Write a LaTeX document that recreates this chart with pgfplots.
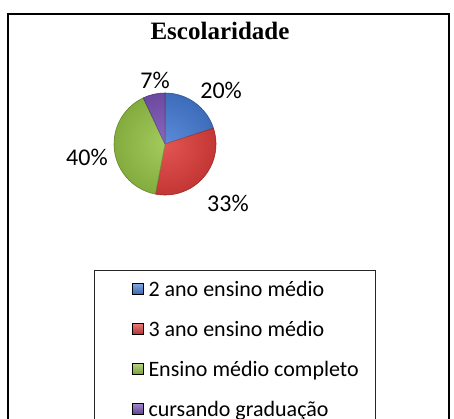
\documentclass[border=0pt]{standalone}
\usepackage{pgfplots}
\pgfplotsset{compat=1.18}
\usepackage{fontspec}
\setmainfont{Carlito}
\newfontfamily\titlefont{Liberation Serif}

\definecolor{pblue}{RGB}{70,124,212}
\definecolor{pred}{RGB}{222,62,60}
\definecolor{pgreen}{RGB}{150,196,72}
\definecolor{ppurple}{RGB}{122,84,182}

% start (cumulative %), value (%), colour
\newcommand\slice[3]{%
  \pgfmathsetmacro\sa{90-3.6*#1}%
  \pgfmathsetmacro\sb{90-3.6*(#1+#2)}%
  \edef\tmp{\noexpand\filldraw[fill=#3, draw=#3!75!black, line width=0.6pt, line join=round]
    (axis cs:0,0) -- ++(\sa:51pt) arc[start angle=\sa, end angle=\sb, radius=51pt] -- cycle;}%
  \tmp}

\begin{document}
\begin{tikzpicture}[x=1pt,y=1pt]
\path[use as bounding box] (0,0) rectangle (454,418);
\clip (0,0) rectangle (454,418);
\draw[line width=1.3pt] (8,-5) -- (8,404) -- (449,404) -- (449,-5);
\node[font=\titlefont\bfseries\fontsize{25}{30}\selectfont] at (220,387) {Escolaridade};

\begin{axis}[
  at={(165pt,274pt)}, anchor=center,
  scale only axis, width=102pt, height=102pt,
  xmin=-1, xmax=1, ymin=-1, ymax=1,
  hide axis, clip=false,
  legend style={at={(axis description cs:-0.196,-0.735)}, anchor=north west,
    draw=black!85, line width=1pt, inner xsep=37pt, inner ysep=9pt,
    row sep=19pt, font=\fontsize{22}{26}\selectfont},
  legend cell align=left,
  legend image code/.code={\shade[#1] (0pt,-5pt) rectangle (11pt,6pt);},
]
\slice{0}{20}{pblue}
\slice{20}{33}{pred}
\slice{53}{40}{pgreen}
\slice{93}{7}{ppurple}
\shade[inner color=white, outer color=black, opacity=0.12] (axis cs:0,0) circle[radius=51pt];

\node[font=\fontsize{24}{28}\selectfont] at (axis cs:1.10,1.06) {20\%};
\node[font=\fontsize{24}{28}\selectfont] at (axis cs:1.235,-1.157) {33\%};
\node[font=\fontsize{24}{28}\selectfont] at (axis cs:-1.53,-0.255) {40\%};
\node[font=\fontsize{24}{28}\selectfont] at (axis cs:-0.196,1.255) {7\%};

\addlegendimage{top color=pblue!70!white, bottom color=pblue!80!black}
\addlegendentry{\makebox[191pt][l]{\hspace{3pt}2 ano ensino médio}}
\addlegendimage{top color=pred!70!white, bottom color=pred!80!black}
\addlegendentry{\makebox[191pt][l]{\hspace{3pt}3 ano ensino médio}}
\addlegendimage{top color=pgreen!70!white, bottom color=pgreen!80!black}
\addlegendentry{\makebox[191pt][l]{\hspace{3pt}Ensino médio completo}}
\addlegendimage{top color=ppurple!70!white, bottom color=ppurple!80!black}
\addlegendentry{\makebox[191pt][l]{\hspace{3pt}cursando graduação}}
\end{axis}
\end{tikzpicture}
\end{document}
